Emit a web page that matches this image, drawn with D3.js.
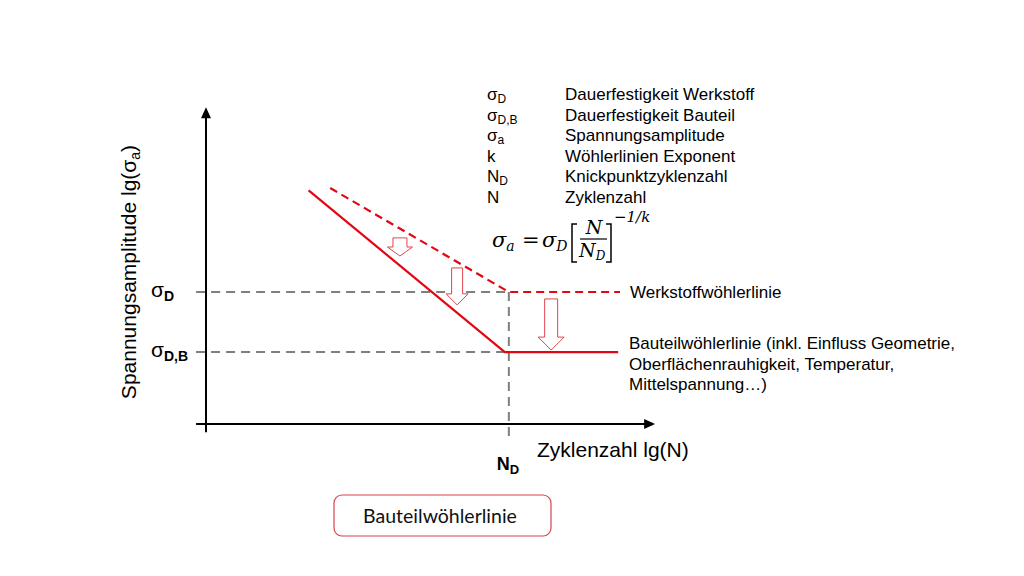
<!DOCTYPE html>
<html><head><meta charset="utf-8">
<script src="https://cdn.jsdelivr.net/npm/d3@7"></script>
<style>body{margin:0;background:#fff}svg{display:block}</style>
</head><body>
<svg id="c" width="1024" height="576"></svg>
<script>
// ---- data (abstract lg units) ----
const werkstoffLine = [{x:2.76,y:7.15},{x:6.73,y:4.0},{x:9.2,y:4.0}];
const bauteilLine   = [{x:2.28,y:7.08},{x:6.64,y:2.18},{x:9.16,y:2.18}];
const sigmaD = 4.0, sigmaDB = 2.18, NDval = 6.73;
const yTicks = [{v:4.0, main:"σ", sub:"D"},{v:2.18, main:"σ", sub:"D,B"}];
const xTicks = [{v:6.73, main:"N", sub:"D"}];
const arrows = [
  {x:4.31, y1:5.64, y2:5.09, shaft:14, head:25, headH:9},
  {x:5.58, y1:4.73, y2:3.61, shaft:11, head:22, headH:11},
  {x:7.67, y1:3.79, y2:2.24, shaft:13, head:26, headH:13}
];
const legendSymbols = [["σ","D"],["σ","D,B"],["σ","a"],["k",""],["N","D"],["N",""]];
const legendTexts = ["Dauerfestigkeit Werkstoff","Dauerfestigkeit Bauteil","Spannungsamplitude","Wöhlerlinien Exponent","Knickpunktzyklenzahl","Zyklenzahl"];
const curveLabels = [["Werkstoffwöhlerlinie"],["Bauteilwöhlerlinie (inkl. Einfluss Geometrie,","Oberflächenrauhigkeit, Temperatur,","Mittelspannung…)"]];
const xTitle = "Zyklenzahl lg(N)";
const yTitle = ["Spannungsamplitude lg(σ","a",")"];
const boxLabel = "Bauteilwöhlerlinie";

// ---- scales ----
const x = d3.scaleLinear().domain([0,10]).range([206,656]);
const y = d3.scaleLinear().domain([0,10]).range([424,94]);
const svg = d3.select("#c");
const RED = "#e30613", GRAY = "#7f7f7f";
const sans = "'Liberation Sans', Arial, sans-serif";

// grey dashed reference lines
svg.append("g").selectAll("line").data([sigmaD, sigmaDB]).join("line")
  .attr("x1", x(-0.22)).attr("x2", x(NDval)).attr("y1", d=>y(d)).attr("y2", d=>y(d))
  .attr("stroke", GRAY).attr("stroke-width", 2).attr("stroke-dasharray","9,6");
svg.append("line").attr("x1", x(NDval)).attr("x2", x(NDval))
  .attr("y1", y(sigmaD)).attr("y2", y(-0.5))
  .attr("stroke", GRAY).attr("stroke-width", 2).attr("stroke-dasharray","9,6");

// axes
const ax = svg.append("g").attr("stroke","#000").attr("stroke-width",2);
ax.append("line").attr("x1", x(0)).attr("x2", x(0)).attr("y1", y(-0.25)).attr("y2", y(9.6)+6);
ax.append("line").attr("x1", x(-0.22)).attr("x2", x(9.98)-6).attr("y1", y(0)).attr("y2", y(0));
svg.append("path").attr("d", `M${x(0)},${y(9.6)} l-5,11 l10,0 z`).attr("fill","#000");
svg.append("path").attr("d", `M${x(9.98)},${y(0)} l-11,-5 l0,10 z`).attr("fill","#000");

// curves
const line = d3.line().x(d=>x(d.x)).y(d=>y(d.y));
svg.append("path").datum(werkstoffLine).attr("d", line).attr("fill","none")
  .attr("stroke", RED).attr("stroke-width", 2.2).attr("stroke-dasharray","8,5");
svg.append("path").datum(bauteilLine).attr("d", line).attr("fill","none")
  .attr("stroke", RED).attr("stroke-width", 2.2);

// hollow arrows
svg.append("g").selectAll("path").data(arrows).join("path")
  .attr("d", d=>{
    const cx = x(d.x), t = y(d.y1), b = y(d.y2), s = d.shaft/2, h = d.head/2, hs = b - d.headH;
    return `M${cx-s},${t} L${cx+s},${t} L${cx+s},${hs} L${cx+h},${hs} L${cx},${b} L${cx-h},${hs} L${cx-s},${hs} Z`;
  })
  .attr("fill","#fff").attr("stroke","#e0454d").attr("stroke-width",1);

// tick labels (y)
const yt = svg.append("g").selectAll("text").data(yTicks).join("text")
  .attr("x", 151).attr("y", d=>y(d.v)+5).attr("font-family", sans).attr("font-size", 21).attr("fill","#000");
yt.append("tspan").text(d=>d.main);
yt.append("tspan").attr("dy", 4).attr("font-size", 14).attr("font-weight","bold").text(d=>d.sub);

// tick labels (x)
const xt = svg.append("g").selectAll("text").data(xTicks).join("text")
  .attr("x", d=>x(d.v)-12).attr("y", 470).attr("font-family", sans).attr("font-size", 18).attr("font-weight","bold");
xt.append("tspan").text(d=>d.main);
xt.append("tspan").attr("dy", 4).attr("font-size", 13).text(d=>d.sub);

// axis titles
svg.append("text").attr("x", 537).attr("y", 457).attr("font-family", sans).attr("font-size", 21).text(xTitle);
const yl = svg.append("text").attr("transform","translate(136,272) rotate(-90)").attr("text-anchor","middle")
  .attr("font-family", sans).attr("font-size", 21);
yl.append("tspan").text(yTitle[0]);
yl.append("tspan").attr("font-size", 14).attr("dy", 4).text(yTitle[1]);
yl.append("tspan").attr("dy", -4).text(yTitle[2]);

// legend
const lg = svg.append("g").attr("font-family", sans).attr("font-size", 17);
legendSymbols.forEach((s,i)=>{
  const t = lg.append("text").attr("x", 487).attr("y", 100 + i*20.5);
  t.append("tspan").text(s[0]);
  if (s[1]) t.append("tspan").attr("dy", 3).attr("font-size", 12).text(s[1]);
  lg.append("text").attr("x", 565).attr("y", 100 + i*20.5).text(legendTexts[i]);
});

// formula
const mf = svg.append("g").attr("font-family","'DejaVu Serif', serif").attr("font-style","italic").attr("fill","#000");
const f1 = mf.append("text").attr("x", 492).attr("y", 247).attr("font-size", 21);
f1.append("tspan").text("σ");
f1.append("tspan").attr("font-size", 14).attr("dy", 4).text("a");
mf.append("text").attr("x", 522).attr("y", 247).attr("font-size", 21).attr("font-style","normal").text("=");
const f2 = mf.append("text").attr("x", 542).attr("y", 247).attr("font-size", 21);
f2.append("tspan").text("σ");
f2.append("tspan").attr("font-size", 14).attr("dy", 4).text("D");
mf.append("path").attr("d","M577,224 L572,224 L572,262 L577,262").attr("fill","none").attr("stroke","#000").attr("stroke-width",1.5);
mf.append("path").attr("d","M606,224 L611,224 L611,262 L606,262").attr("fill","none").attr("stroke","#000").attr("stroke-width",1.5);
mf.append("text").attr("x", 594).attr("y", 234).attr("text-anchor","middle").attr("font-size", 19).text("N");
mf.append("line").attr("x1", 580).attr("x2", 607).attr("y1", 239).attr("y2", 239).attr("stroke","#000").attr("stroke-width",1.2);
const f3 = mf.append("text").attr("x", 579).attr("y", 257).attr("font-size", 19);
f3.append("tspan").text("N");
f3.append("tspan").attr("font-size", 12).attr("dy", 3).text("D");
mf.append("text").attr("x", 614).attr("y", 222).attr("font-size", 15).text("−1/k");

// curve labels
const cl = svg.append("g").attr("font-family", sans).attr("font-size", 17);
cl.append("text").attr("x", 630).attr("y", y(sigmaD)+6).text(curveLabels[0][0]);
const targets = [953, 888, null];
curveLabels[1].forEach((s,i)=>{
  const t = cl.append("text").attr("x", 629).attr("y", 349 + i*20.5).text(s);
  if (targets[i]) {
    const w = t.node().getComputedTextLength();
    const n = s.split(" ").length - 1;
    if (n>0) t.attr("word-spacing", Math.max(0,(targets[i]-629-w)/n));
  }
});

// bottom box
svg.append("rect").attr("x", 334).attr("y", 495).attr("width", 217).attr("height", 41).attr("rx", 8)
  .attr("fill","#fff").attr("stroke","#d9434a").attr("stroke-width",1.2);
svg.append("text").attr("x", 440).attr("y", 523).attr("text-anchor","middle")
  .attr("font-family","Lato, 'Open Sans', sans-serif").attr("font-size", 19.5).attr("fill","#111").text(boxLabel);
</script>
</body></html>
